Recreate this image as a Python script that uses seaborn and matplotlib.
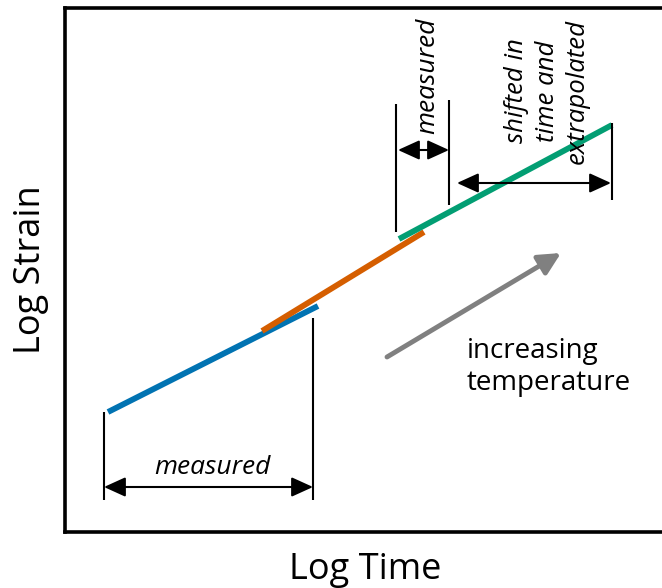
import numpy as np
import pandas as pd
import matplotlib
matplotlib.use('Agg')
import matplotlib.pyplot as plt
import seaborn as sns

# schematic segments, coordinates (pixel-like units, y grows downwards)
seg_names = ['low T', 'mid T', 'high T']
seg_x0 = [108, 262, 399]
seg_x1 = [318, 424, 612]
seg_y0 = [412, 331, 239]
seg_y1 = [306, 232, 125]

# dimension marks: vertical guide lines (x, y top, y bottom)
guide_x = [104, 313, 396, 449, 612]
guide_top = [412, 318, 104, 100, 123]
guide_bot = [500, 500, 232, 205, 200]

# double arrows (x start, x end, y)
dim_x0 = [104, 398, 457]
dim_x1 = [313, 449, 611]
dim_y = [487, 150, 183]

# temperature arrow
temp_x = [387, 561]
temp_y = [357, 253]

sns.set_theme(style='white')
plt.rcParams['font.family'] = ['Open Sans', 'DejaVu Sans']
plt.rcParams['text.color'] = 'black'
plt.rcParams['axes.labelcolor'] = 'black'

pal = sns.color_palette('colorblind')
seg_colors = [pal[0], pal[3], pal[2]]

fig = plt.figure(figsize=(6.62, 5.88), dpi=100)
ax = fig.add_axes([64.5 / 662, (588 - 531.5) / 588, (666 - 64.5) / 662, (531.5 - 7.5) / 588])

rows = []
for name, xa, xb, ya, yb in zip(seg_names, seg_x0, seg_x1, seg_y0, seg_y1):
    rows.append({'seg': name, 'x': xa, 'y': ya})
    rows.append({'seg': name, 'x': xb, 'y': yb})
df = pd.DataFrame(rows)
sns.lineplot(data=df, x='x', y='y', hue='seg', palette=seg_colors, linewidth=4.2,
             legend=False, ax=ax, sort=False, estimator=None, solid_capstyle='butt')

ax.vlines(guide_x, guide_top, guide_bot, color='black', linewidth=1.5)

for xa, xb, yy in zip(dim_x0, dim_x1, dim_y):
    ax.annotate('', xy=(xb, yy), xytext=(xa, yy),
                arrowprops=dict(arrowstyle='<|-|>,head_length=1.1,head_width=0.5',
                                color='black', lw=1.5, shrinkA=0, shrinkB=0))

ax.annotate('', xy=(temp_x[1], temp_y[1]), xytext=(temp_x[0], temp_y[0]),
            arrowprops=dict(arrowstyle='-|>,head_length=1.1,head_width=0.55',
                            color='#808080', lw=3.5, shrinkA=0, shrinkB=0))

ax.text(212, 467, 'measured', style='italic', fontsize=19, ha='center', va='center')
ax.text(428, 76, 'measured', style='italic', fontsize=19, ha='center', va='center', rotation=90)
ax.text(547, 91, 'shifted in\ntime and\nextrapolated', style='italic', fontsize=18.5,
        ha='center', va='center', rotation=90, multialignment='center', linespacing=1.3)
ax.text(467, 367, 'increasing\ntemperature', fontsize=20, ha='left', va='center', linespacing=1.15)

ax.set_xlim(64.5, 666)
ax.set_ylim(531.5, 7.5)
ax.set_xticks([])
ax.set_yticks([])
ax.set_xlabel('Log Time', fontsize=26, labelpad=15)
ax.set_ylabel('Log Strain', fontsize=26, labelpad=11)
for sp in ax.spines.values():
    sp.set_color('black')
    sp.set_linewidth(2.6)

fig.savefig('out.png', dpi=100)
